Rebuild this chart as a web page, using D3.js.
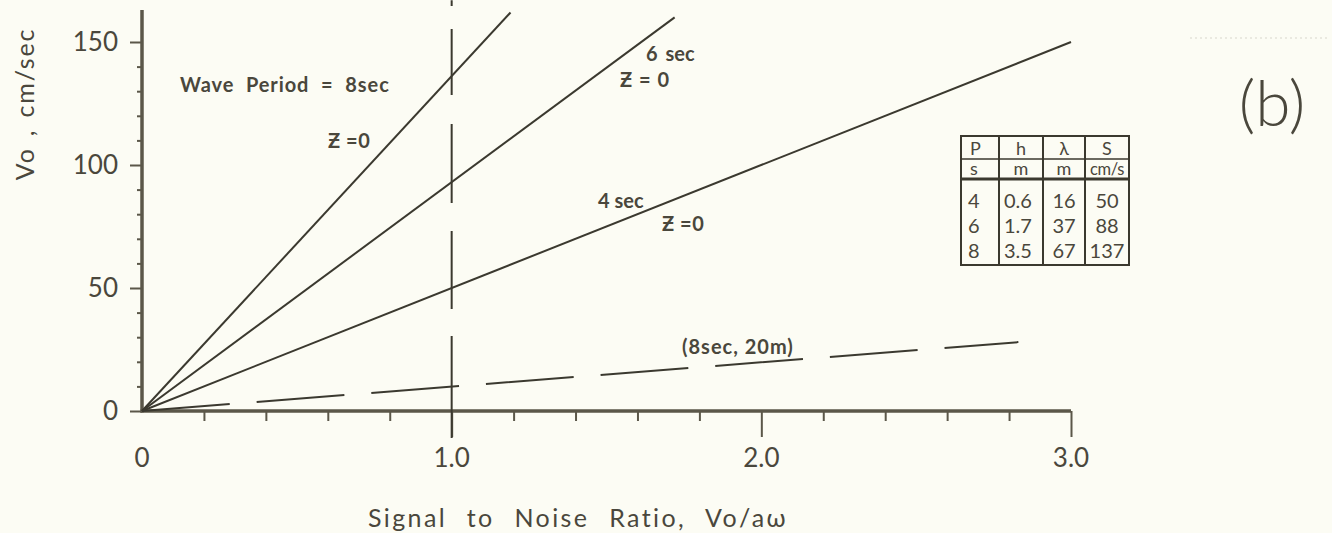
<!DOCTYPE html>
<html>
<head>
<meta charset="utf-8">
<script src="https://cdn.jsdelivr.net/npm/d3@7"></script>
<style>
  html, body { margin: 0; padding: 0; background: #fcfcf4; }
  svg { display: block; }
  text { fill: #4a473c; font-family: "Lato", "DejaVu Sans", sans-serif; }
</style>
</head>
<body>
<svg id="chart" width="1332" height="533"></svg>
<script>
// ---------- data ----------
const xTickMajor = [0, 1.0, 2.0, 3.0];
const xTickLabels = ["0", "1.0", "2.0", "3.0"];
const xTickMinor = [0.2, 0.4, 0.6, 0.8, 1.2, 1.4, 1.6, 1.8, 2.2, 2.4, 2.6, 2.8];
const yTickMajor = [0, 50, 100, 150];
const yTickLabels = ["0", "50", "100", "150"];
const yTickMinor = [10, 20, 30, 40, 60, 70, 80, 90, 110, 120, 130, 140];

const seriesNames = ["8 sec", "6 sec", "4 sec", "8 sec, 20 m"];
const seriesRatio = [[0, 1.19], [0, 1.72], [0, 3.0], [0, 2.83]];
const seriesVo    = [[0, 162], [0, 160], [0, 150], [0, 28]];
const seriesDashed = [false, false, false, true];

const refRatio = 1.0;            // vertical dashed reference line
const refVoRange = [-11, 167];

const tableHeader = ["P", "h", "λ", "S"];
const tableUnits  = ["s", "m", "m", "cm/s"];
const tableRows   = [["4", "0.6", "16", "50"], ["6", "1.7", "37", "88"], ["8", "3.5", "67", "137"]];

// ---------- scales ----------
const svg = d3.select("#chart");
const x = d3.scaleLinear().domain([0, 3]).range([142, 1071]);
const y = d3.scaleLinear().domain([0, 150]).range([411, 42]);
const yAxisTop = 163;

const ink = "#3b392f";
const axisInk = "#5b5749";

// ---------- axes ----------
svg.append("g").attr("transform", `translate(${x(0)},0)`)
  .call(d3.axisLeft(y).tickValues(yTickMinor).tickSize(5).tickFormat(""))
  .call(g => g.select(".domain").remove())
  .call(g => g.selectAll("line").attr("stroke", axisInk).attr("stroke-width", 2));
svg.append("g").attr("transform", `translate(0,${y(0)})`)
  .call(d3.axisBottom(x).tickValues(xTickMinor).tickSize(10).tickFormat(""))
  .call(g => g.select(".domain").remove())
  .call(g => g.selectAll("line").attr("stroke", axisInk).attr("stroke-width", 2));

svg.append("g").attr("transform", `translate(${x(0)},0)`)
  .call(d3.axisLeft(y).tickValues(yTickMajor).tickSize(12).tickPadding(12)
        .tickFormat((d, i) => yTickLabels[i]))
  .call(g => g.select(".domain").remove())
  .call(g => g.selectAll("line").attr("stroke", axisInk).attr("stroke-width", 2))
  .call(g => g.selectAll("text").attr("font-size", 26).attr("fill", "#4a473c")
        .style("font-family", "Lato, 'DejaVu Sans', sans-serif"));

svg.append("g").attr("transform", `translate(0,${y(0)})`)
  .call(d3.axisBottom(x).tickValues(xTickMajor.slice(1)).tickSize(26).tickFormat(""))
  .call(g => g.select(".domain").remove())
  .call(g => g.selectAll("line").attr("stroke", axisInk).attr("stroke-width", 2));

svg.append("g").selectAll("text").data(xTickMajor).join("text")
  .attr("x", d => x(d)).attr("y", 467)
  .attr("text-anchor", "middle").attr("font-size", 26)
  .text((d, i) => xTickLabels[i]);

svg.append("line")
  .attr("x1", x(0)).attr("x2", x(0)).attr("y1", y(0) + 1.5).attr("y2", y(yAxisTop))
  .attr("stroke", axisInk).attr("stroke-width", 3.5);
svg.append("line")
  .attr("x1", x(0) - 1.5).attr("x2", x(3)).attr("y1", y(0)).attr("y2", y(0))
  .attr("stroke", axisInk).attr("stroke-width", 3.5);

// ---------- reference dashed vertical line ----------
svg.append("line")
  .attr("x1", x(refRatio)).attr("x2", x(refRatio))
  .attr("y1", y(refVoRange[0])).attr("y2", y(refVoRange[1]))
  .attr("stroke", ink).attr("stroke-width", 2)
  .attr("stroke-dasharray", "102,27,78,28,79,29,66,23,20");

// ---------- series lines ----------
const lineGen = d3.line().x(d => x(d[0])).y(d => y(d[1]));
seriesNames.forEach((name, i) => {
  const pts = seriesRatio[i].map((r, j) => [r, seriesVo[i][j]]);
  svg.append("path").datum(pts)
    .attr("d", lineGen)
    .attr("fill", "none")
    .attr("stroke", ink)
    .attr("stroke-width", 2)
    .attr("stroke-dasharray", seriesDashed[i] ? "88,27" : null);
});

// ---------- annotations ----------
const ann = svg.append("g").attr("font-size", 20).attr("font-weight", "bold");
ann.append("text").attr("x", 180).attr("y", 92).attr("letter-spacing", 0.9)
  .attr("word-spacing", 6).text("Wave Period = 8sec");
ann.append("text").attr("x", 328).attr("y", 148).attr("letter-spacing", 0.5).text("Ƶ =0");
ann.append("text").attr("x", 646).attr("y", 61).attr("word-spacing", 3).text("6 sec");
ann.append("text").attr("x", 620).attr("y", 87).attr("word-spacing", 2).text("Ƶ = 0");
ann.append("text").attr("x", 598).attr("y", 208).text("4 sec");
ann.append("text").attr("x", 662).attr("y", 231).attr("letter-spacing", 0.5).text("Ƶ =0");
ann.append("text").attr("x", 682).attr("y", 354).attr("letter-spacing", 1).text("(8sec, 20m)");

// ---------- (b) ----------
svg.append("text").attr("x", 1272).attr("y", 126).attr("text-anchor", "middle")
  .attr("font-size", 64).attr("font-weight", 300)
  .text("(b)");

// ---------- axis titles ----------
svg.append("text").attr("x", 578).attr("y", 527).attr("text-anchor", "middle")
  .attr("font-size", 25).attr("letter-spacing", 2.4).attr("word-spacing", 11)
  .text("Signal to Noise Ratio, Vo/aω");
svg.append("text")
  .attr("transform", "translate(34,104) rotate(-90)")
  .attr("text-anchor", "middle").attr("font-size", 25).attr("letter-spacing", 1.8)
  .attr("word-spacing", 3)
  .text("Vo , cm/sec");

// ---------- table ----------
const colEdges = [961, 999, 1043, 1085, 1129];
const rowEdges = [136, 159, 179, 265];
const tbl = svg.append("g");
tbl.append("rect").attr("x", colEdges[0]).attr("y", rowEdges[0])
  .attr("width", colEdges[4] - colEdges[0]).attr("height", rowEdges[3] - rowEdges[0])
  .attr("fill", "none").attr("stroke", ink).attr("stroke-width", 2);
colEdges.slice(1, 4).forEach(cx => tbl.append("line")
  .attr("x1", cx).attr("x2", cx).attr("y1", rowEdges[0]).attr("y2", rowEdges[3])
  .attr("stroke", ink).attr("stroke-width", 2));
tbl.append("line").attr("x1", colEdges[0]).attr("x2", colEdges[4])
  .attr("y1", rowEdges[1]).attr("y2", rowEdges[1]).attr("stroke", ink).attr("stroke-width", 1.5);
tbl.append("line").attr("x1", colEdges[0]).attr("x2", colEdges[4])
  .attr("y1", rowEdges[2]).attr("y2", rowEdges[2]).attr("stroke", ink).attr("stroke-width", 3);

const colX = (j) => j === 0 ? colEdges[0] + 7 : (j === 1 ? colEdges[1] + 5 : (colEdges[j] + colEdges[j + 1]) / 2);
const anchor = (j) => j >= 2 ? "middle" : "start";
const hdrX = (j) => j === 0 ? colEdges[0] + 9 : (colEdges[j] + colEdges[j + 1]) / 2;
tableHeader.forEach((t, j) => tbl.append("text").attr("x", hdrX(j)).attr("y", 155)
  .attr("text-anchor", j === 0 ? "start" : "middle").attr("font-size", 18).text(t));
tableUnits.forEach((t, j) => tbl.append("text").attr("x", hdrX(j)).attr("y", 175)
  .attr("text-anchor", j === 0 ? "start" : "middle").attr("font-size", j === 3 ? 16.5 : 18)
  .attr("letter-spacing", j === 3 ? -0.3 : 0).text(t));
tableRows.forEach((row, i) => row.forEach((t, j) => tbl.append("text")
  .attr("x", colX(j)).attr("y", 208 + i * 25)
  .attr("text-anchor", anchor(j)).attr("font-size", 20).text(t)));

// faint scan artefact line at top right
svg.append("line").attr("x1", 1190).attr("x2", 1330).attr("y1", 38).attr("y2", 38)
  .attr("stroke", "#d8d6cc").attr("stroke-width", 1).attr("stroke-dasharray", "2,3");
</script>
</body>
</html>
